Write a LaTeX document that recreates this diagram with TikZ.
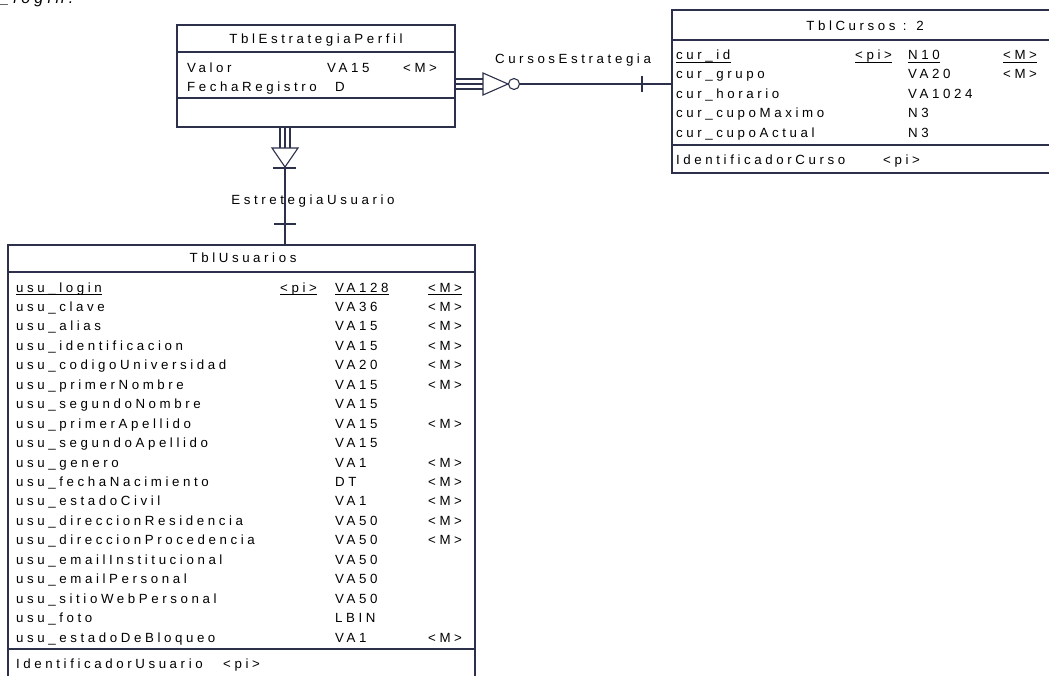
\documentclass[tikz,border=0pt]{standalone}
\usepackage{fontspec}
\setmainfont{Liberation Sans}[LetterSpace=27]
\usetikzlibrary{calc}
\definecolor{ln}{RGB}{45,48,75}
\begin{document}
\begin{tikzpicture}[x=1pt,y=-1pt,
  tbl/.style={draw=ln, line width=1.3pt, fill=white, inner sep=0pt, outer sep=0pt, anchor=north west},
  sep/.style={draw=ln, line width=1.3pt},
  txt/.style={inner sep=0pt, anchor=base west, font=\fontsize{13.3}{15}\selectfont, text=black},
  ttl/.style={txt, anchor=base},
  lnk/.style={draw=ln, line width=1.1pt},
  ul/.style={draw=black, line width=0.8pt},
]
\useasboundingbox (0,0) rectangle (1049,675);
\clip (0,0) rectangle (1049,675);
\fill[white] (0,0) rectangle (1049,675);

% caption fragment at the top (cut off by the page edge, as in the reference)
\node[inner sep=0pt, anchor=base west, font=\fontsize{16}{18}\selectfont\itshape] (cap) at (0,3.5) {\_login.};

% ---------- TblEstrategiaPerfil
\node[tbl, minimum width=278pt, minimum height=102pt] (ep) at (177,25) {};
\draw[sep] ($(ep.north west)+(0,27)$) -- ($(ep.north east)+(0,27)$);
\draw[sep] ($(ep.north west)+(0,73)$) -- ($(ep.north east)+(0,73)$);
\node[ttl] (eptitle) at (316,43) {TblEstrategiaPerfil};
\node[txt] (epn1) at (187,72) {Valor};
\node[txt] (ept1) at (327,72) {VA15};
\node[txt] (epm1) at (403,72) {<M>};
\node[txt] (epn2) at (187,91) {FechaRegistro};
\node[txt] (ept2) at (335,91) {D};

% ---------- TblCursos
\node[tbl, minimum width=388pt, minimum height=163pt] (cu) at (672,10) {};
\draw[sep] ($(cu.north west)+(0,30)$) -- ($(cu.north east)+(0,30)$);
\draw[sep] ($(cu.north west)+(0,135)$) -- ($(cu.north east)+(0,135)$);
\node[ttl] (cutitle) at (865,30) {TblCursos : 2};
\node[txt] (cn1) at (676,59.5) {cur\_id};
\node[txt] (cp1) at (855,59.5) {<pi>};
\node[txt] (ct1) at (908,59.5) {N10};
\node[txt] (cm1) at (1003,59.5) {<M>};
\foreach \a in {cn1,cp1,ct1,cm1}
  \draw[ul] ([yshift=-2.5pt]\a.base west) -- ([yshift=-2.5pt]\a.base east);
\foreach \nm/\ty [count=\i from 2] in {cur\_grupo/VA20, cur\_horario/VA1024, cur\_cupoMaximo/N3, cur\_cupoActual/N3}{
  \node[txt] (cn\i) at (676,{59.5+(\i-1)*19.45}) {\nm};
  \node[txt] (ct\i) at (908,{59.5+(\i-1)*19.45}) {\ty};
}
\node[txt] (cm2) at (1003,78.95) {<M>};
\node[txt] (cid) at (676,164) {IdentificadorCurso};
\node[txt] (cidp) at (883,164) {<pi>};

% ---------- TblUsuarios
\node[tbl, minimum width=467pt, minimum height=432pt] (us) at (8,245) {};
\draw[sep] ($(us.north west)+(0,27)$) -- ($(us.north east)+(0,27)$);
\draw[sep] ($(us.north west)+(0,404)$) -- ($(us.north east)+(0,404)$);
\node[ttl] (ustitle) at (243,262) {TblUsuarios};
\node[txt] (un1) at (16,292) {usu\_login};
\node[txt] (up1) at (280,292) {<pi>};
\node[txt] (ut1) at (335,292) {VA128};
\node[txt] (um1) at (428,292) {<M>};
\foreach \a in {un1,up1,ut1,um1}
  \draw[ul] ([yshift=-2.5pt]\a.base west) -- ([yshift=-2.5pt]\a.base east);
\foreach \nm/\ty [count=\i from 2] in {
  usu\_clave/VA36, usu\_alias/VA15, usu\_identificacion/VA15,
  usu\_codigoUniversidad/VA20, usu\_primerNombre/VA15, usu\_segundoNombre/VA15,
  usu\_primerApellido/VA15, usu\_segundoApellido/VA15, usu\_genero/VA1,
  usu\_fechaNacimiento/DT, usu\_estadoCivil/VA1, usu\_direccionResidencia/VA50,
  usu\_direccionProcedencia/VA50, usu\_emailInstitucional/VA50,
  usu\_emailPersonal/VA50, usu\_sitioWebPersonal/VA50, usu\_foto/LBIN,
  usu\_estadoDeBloqueo/VA1}{
  \node[txt] (un\i) at (16,{292+(\i-1)*19.45}) {\nm};
  \node[txt] (ut\i) at (335,{292+(\i-1)*19.45}) {\ty};
}
\foreach \i in {2,3,4,5,6,8,10,11,12,13,14,19}
  \node[txt] (um\i) at (428,{292+(\i-1)*19.45}) {<M>};
\node[txt] (uid) at (16,668) {IdentificadorUsuario};
\node[txt] (uidp) at (223,668) {<pi>};

% ---------- CursosEstrategia (horizontal)
\coordinate (m) at (0,84);
\foreach \d in {-5,0,5}
  \draw[lnk] ($(ep.east|-m)+(0,\d)$) -- ($(ep.east|-m)+(28,\d)$);
\draw[lnk, fill=white] ($(ep.east|-m)+(28,-11)$) -- ($(ep.east|-m)+(53,0)$) -- ($(ep.east|-m)+(28,11)$) -- cycle;
\draw[lnk, fill=white] ($(ep.east|-m)+(59,0)$) circle (5.5pt);
\draw[lnk] ($(ep.east|-m)+(64.5,0)$) -- (cu.west|-m);
\draw[lnk] ($(cu.west|-m)+(-30,-8)$) -- ($(cu.west|-m)+(-30,8)$);
\node[ttl] (lbl1) at (573,63) {CursosEstrategia};

% ---------- EstretegiaUsuario (vertical)
\coordinate (v) at (285,0);
\foreach \d in {-5,0,5}
  \draw[lnk] ($(ep.south-|v)+(\d,0)$) -- ($(ep.south-|v)+(\d,21)$);
\draw[lnk, fill=white] ($(ep.south-|v)+(-13,21)$) -- ($(ep.south-|v)+(0,40)$) -- ($(ep.south-|v)+(13,21)$) -- cycle;
\draw[lnk] ($(ep.south-|v)+(0,40)$) -- (us.north-|v);
\draw[lnk] ($(ep.south-|v)+(-12,41)$) -- ($(ep.south-|v)+(11,41)$);
\draw[lnk] ($(us.north-|v)+(-11,-21)$) -- ($(us.north-|v)+(11,-21)$);
\node[ttl] (lbl2) at (313,204) {EstretegiaUsuario};
\end{tikzpicture}
\end{document}
